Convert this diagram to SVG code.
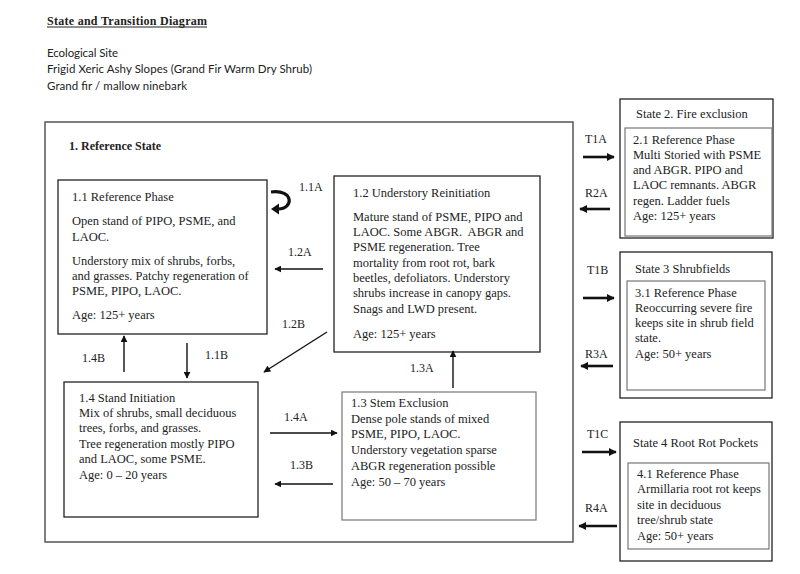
<svg xmlns="http://www.w3.org/2000/svg" width="800" height="574" viewBox="0 0 800 574">
<style>
.bg{fill:#fff}
.box{fill:#fff;stroke:#222;stroke-width:1.3}
.gbox{fill:#fff;stroke:#777;stroke-width:1.2}
.obox{fill:none;stroke:#555;stroke-width:1.5}
.t{font-family:"Liberation Serif","Times New Roman",serif;font-size:12.5px;fill:#222}
.l{font-family:"Liberation Serif","Times New Roman",serif;font-size:12px;fill:#222}
.s{font-family:"Lato","Liberation Sans",Arial,sans-serif;font-size:11.5px;fill:#222}
.h{font-family:"Liberation Serif","Times New Roman",serif;font-size:12px;font-weight:bold;fill:#222}
.a{fill:none;stroke:#111;stroke-width:1.4}
.ta{fill:none;stroke:#111;stroke-width:2.6}
</style>
<defs>
<marker id="ah" viewBox="0 0 10 10" refX="9" refY="5" markerWidth="7" markerHeight="7" markerUnits="userSpaceOnUse" orient="auto"><path d="M0,0 L10,5 L0,10 z" fill="#111"/></marker>
<marker id="ahs" viewBox="0 0 10 10" refX="9" refY="5" markerWidth="3" markerHeight="3" orient="auto"><path d="M0,0 L10,5 L0,10 z" fill="#111"/></marker>
</defs>
<rect class="bg" x="0" y="0" width="800" height="574"/>

<g id="header">
<text class="h" x="47" y="25" textLength="160">State and Transition Diagram</text>
<line x1="47" y1="27" x2="207" y2="27" stroke="#222" stroke-width="1"/>
<text class="s" x="47" y="57" textLength="71">Ecological Site</text>
<text class="s" x="47" y="73" textLength="265">Frigid Xeric Ashy Slopes (Grand Fir Warm Dry Shrub)</text>
<text class="s" x="47" y="90" textLength="140">Grand fir / mallow ninebark</text>
</g>

<g id="state1">
<rect class="obox" x="45" y="122" width="528" height="420"/>
<text class="h" x="69" y="150">1. Reference State</text>
</g>

<g id="phase1-1">
<rect class="box" x="58" y="180" width="209" height="154"/>
<text class="t" x="72" y="201">1.1 Reference Phase</text>
<text class="t" x="72" y="225">Open stand of PIPO, PSME, and</text>
<text class="t" x="72" y="241">LAOC.</text>
<text class="t" x="72" y="265">Understory mix of shrubs, forbs,</text>
<text class="t" x="72" y="280">and grasses. Patchy regeneration of</text>
<text class="t" x="72" y="295">PSME, PIPO, LAOC.</text>
<text class="t" x="72" y="319">Age: 125+ years</text>
</g>

<g id="phase1-2">
<rect class="box" x="334" y="176" width="206" height="176"/>
<text class="t" x="353" y="197">1.2 Understory Reinitiation</text>
<text class="t" x="353" y="221">Mature stand of PSME, PIPO and</text>
<text class="t" x="353" y="236" xml:space="preserve">LAOC. Some ABGR.  ABGR and</text>
<text class="t" x="353" y="251">PSME regeneration. Tree</text>
<text class="t" x="353" y="267">mortality from root rot, bark</text>
<text class="t" x="353" y="282">beetles, defoliators. Understory</text>
<text class="t" x="353" y="297">shrubs increase in canopy gaps.</text>
<text class="t" x="353" y="313">Snags and LWD present.</text>
<text class="t" x="353" y="338">Age: 125+ years</text>
</g>

<g id="phase1-4">
<rect class="box" x="64" y="382" width="194" height="135"/>
<text class="t" x="79" y="402">1.4 Stand Initiation</text>
<text class="t" x="79" y="417">Mix of shrubs, small deciduous</text>
<text class="t" x="79" y="432">trees, forbs, and grasses.</text>
<text class="t" x="79" y="448">Tree regeneration mostly PIPO</text>
<text class="t" x="79" y="463">and LAOC, some PSME.</text>
<text class="t" x="79" y="479">Age: 0 – 20 years</text>
</g>

<g id="phase1-3">
<rect class="gbox" x="342" y="392" width="194" height="128"/>
<text class="t" x="351" y="407">1.3 Stem Exclusion</text>
<text class="t" x="351" y="423">Dense pole stands of mixed</text>
<text class="t" x="351" y="438">PSME, PIPO, LAOC.</text>
<text class="t" x="351" y="454">Understory vegetation sparse</text>
<text class="t" x="351" y="470">ABGR regeneration possible</text>
<text class="t" x="351" y="486">Age: 50 – 70 years</text>
</g>

<g id="state2">
<rect class="box" x="620" y="99" width="153" height="139"/>
<text class="t" x="636" y="118">State 2. Fire exclusion</text>
<rect class="gbox" x="625" y="128" width="147" height="108"/>
<text class="t" x="633" y="144">2.1 Reference Phase</text>
<text class="t" x="633" y="159">Multi Storied with PSME</text>
<text class="t" x="633" y="174">and ABGR. PIPO and</text>
<text class="t" x="633" y="189">LAOC remnants. ABGR</text>
<text class="t" x="633" y="205">regen. Ladder fuels</text>
<text class="t" x="633" y="220">Age: 125+ years</text>
</g>

<g id="state3">
<rect class="box" x="620" y="252" width="152" height="146"/>
<text class="t" x="635" y="273">State 3 Shrubfields</text>
<rect class="gbox" x="627" y="281" width="138" height="109"/>
<text class="t" x="635" y="297">3.1 Reference Phase</text>
<text class="t" x="635" y="312">Reoccurring severe fire</text>
<text class="t" x="635" y="327">keeps site in shrub field</text>
<text class="t" x="635" y="342">state.</text>
<text class="t" x="635" y="358">Age: 50+ years</text>
</g>

<g id="state4">
<rect class="box" x="620" y="422" width="152" height="139"/>
<text class="t" x="633" y="447">State 4 Root Rot Pockets</text>
<rect class="gbox" x="628" y="463" width="141" height="86"/>
<text class="t" x="637" y="478">4.1 Reference Phase</text>
<text class="t" x="637" y="493">Armillaria root rot keeps</text>
<text class="t" x="637" y="509">site in deciduous</text>
<text class="t" x="637" y="524">tree/shrub state</text>
<text class="t" x="637" y="540">Age: 50+ years</text>
</g>

<g id="connectors">
<path d="M271,192 C294,189 294,209 278,209" fill="none" stroke="#111" stroke-width="3.2"/>
<path d="M271,209 L279,203.5 L279,214.5 z" fill="#111"/>
<line class="a" x1="323" y1="269" x2="275" y2="269" marker-end="url(#ah)"/>
<line class="a" x1="327" y1="332" x2="264" y2="372" marker-end="url(#ah)"/>
<line class="a" x1="124" y1="372" x2="124" y2="336" marker-end="url(#ah)"/>
<line class="a" x1="187" y1="343" x2="187" y2="378" marker-end="url(#ah)"/>
<line class="a" x1="270" y1="433" x2="337" y2="433" marker-end="url(#ah)"/>
<line class="a" x1="333" y1="484" x2="275" y2="484" marker-end="url(#ah)"/>
<line class="a" x1="453" y1="388" x2="453" y2="351" marker-end="url(#ah)"/>
<line class="ta" x1="583" y1="157" x2="614" y2="157" marker-end="url(#ahs)"/>
<line class="ta" x1="610" y1="209" x2="580" y2="209" marker-end="url(#ahs)"/>
<line class="ta" x1="583" y1="298" x2="614" y2="298" marker-end="url(#ahs)"/>
<line class="ta" x1="613" y1="366" x2="581" y2="366" marker-end="url(#ahs)"/>
<line class="ta" x1="582" y1="452" x2="616" y2="452" marker-end="url(#ahs)"/>
<line class="ta" x1="617" y1="526" x2="579" y2="526" marker-end="url(#ahs)"/>
</g>

<g id="labels">
<text class="l" x="299" y="191">1.1A</text>
<text class="l" x="288" y="256">1.2A</text>
<text class="l" x="282" y="328">1.2B</text>
<text class="l" x="82" y="362">1.4B</text>
<text class="l" x="205" y="359">1.1B</text>
<text class="l" x="284" y="421">1.4A</text>
<text class="l" x="290" y="469">1.3B</text>
<text class="l" x="410" y="372">1.3A</text>
<text class="l" x="585" y="143">T1A</text>
<text class="l" x="585" y="197">R2A</text>
<text class="l" x="587" y="274">T1B</text>
<text class="l" x="585" y="358">R3A</text>
<text class="l" x="587" y="438">T1C</text>
<text class="l" x="585" y="512">R4A</text>
</g>
</svg>
